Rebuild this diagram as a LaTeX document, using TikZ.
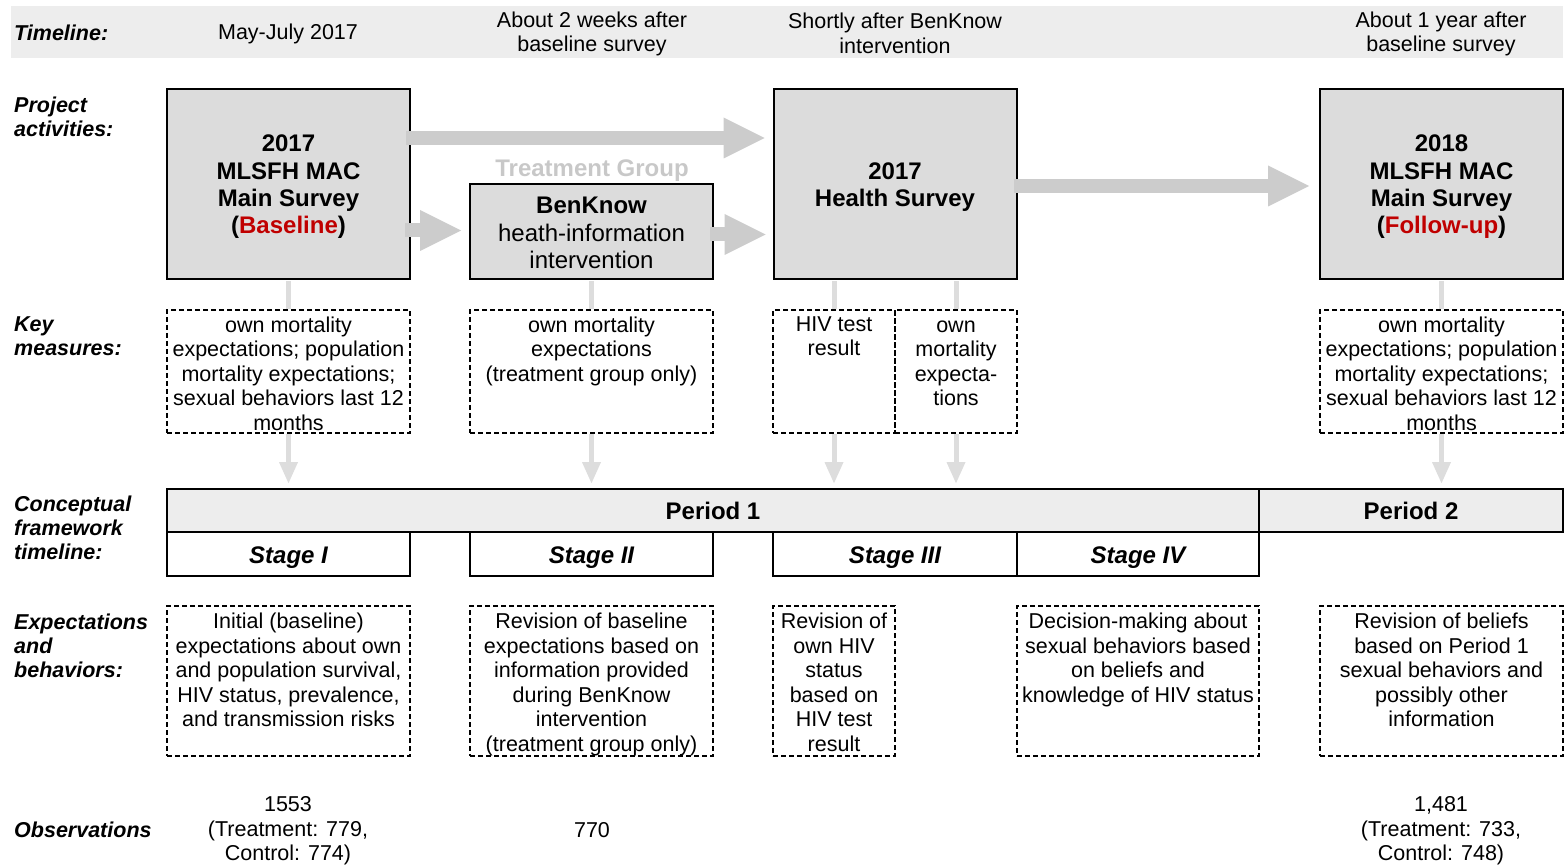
\documentclass[tikz,border=0pt]{standalone}
\usepackage{fontspec}
\setmainfont{Liberation Sans}
\usetikzlibrary{arrows.meta}
\definecolor{bandgray}{HTML}{EDEDED}
\definecolor{boxgray}{HTML}{DCDCDC}
\definecolor{arrgray}{HTML}{CCCCCC}
\definecolor{conngray}{HTML}{DDDDDD}
\definecolor{tgray}{HTML}{C8C8C8}
\definecolor{myred}{HTML}{C00000}
\begin{document}
\begin{tikzpicture}[x=1pt,y=-1pt,
  lab/.style={anchor=west, align=left, inner sep=0pt, font=\fontsize{21.5pt}{24pt}\selectfont\bfseries\itshape},
  txt/.style={align=center, inner sep=0pt, font=\fontsize{21.5pt}{24.5pt}\selectfont},
  pbox/.style={draw=black, line width=2pt, fill=boxgray, minimum width=243pt, minimum height=190pt, inner sep=0pt, align=center, font=\fontsize{24pt}{27.3pt}\selectfont\bfseries},
  ptext/.style={align=center, inner sep=0pt, font=\fontsize{24pt}{27.3pt}\selectfont\bfseries},
  dbox/.style={draw=black, dash pattern=on 5pt off 3pt, line width=1.3pt, inner sep=0pt, minimum width=243pt},
  perbox/.style={draw=black, line width=1.6pt, fill=bandgray, minimum height=43pt, inner sep=0pt, font=\fontsize{24pt}{27pt}\selectfont\bfseries},
  stagebox/.style={draw=black, line width=1.6pt, fill=white, minimum height=44pt, inner sep=0pt, text height=19pt, text depth=0pt, font=\fontsize{24pt}{27pt}\selectfont\bfseries\itshape},
  fat/.style={draw=arrgray, line width=14pt, -{Triangle[length=41pt,width=41pt,line width=0pt]}},
  conn/.style={draw=conngray, line width=5pt},
  connarr/.style={conn, -{Triangle[length=21pt,width=19pt,line width=0pt]}}
]
\useasboundingbox (0,0) rectangle (1566,866);

% timeline band
\node[fill=bandgray, minimum width=1552pt, minimum height=52pt, inner sep=0pt] (band) at (787,32) {};
\node[lab] (tlab) at (14,33) {Timeline:};
\node[txt] (t1) at (288,34) {May-July 2017};
\node[txt] (t2) at (592,34) {About 2 weeks after\\baseline survey};
\node[txt] (t3) at (895,33.5) {Shortly after BenKnow\\intervention};
\node[txt] (t4) at (1441,34) {About 1 year after\\baseline survey};

% left labels
\node[lab] (lpa) at (14,116.5) {Project\\activities:};
\node[lab] (lkm) at (14,336.5) {Key\\measures:};
\node[lab] (lcf) at (14,527.5) {Conceptual\\framework\\timeline:};
\node[lab] (leb) at (14,645.5) {Expectations\\and\\behaviors:};
\node[lab] (lob) at (14,830) {Observations};

% project activity boxes
\node[pbox] (b1) at (288.5,184) {};
\node[pbox, minimum height=95pt] (b2) at (591.5,231.5) {};
\node[pbox] (b3) at (895,184) {};
\node[pbox] (b4) at (1441.5,184) {};
\node[ptext] (b1t) at (288.5,187) {2017\\MLSFH MAC\\Main Survey\\(\textcolor{myred}{Baseline})};
\node[ptext] (b2t) at (591.5,233) {BenKnow\\\mdseries heath-information\\\mdseries intervention};
\node[ptext] (b3t) at (895,187) {2017\\Health Survey};
\node[ptext] (b4t) at (1441.5,187) {2018\\MLSFH MAC\\Main Survey\\(\textcolor{myred}{Follow-up})};
\node[text=tgray, inner sep=0pt, font=\fontsize{24pt}{27pt}\selectfont\bfseries] (tg) at (592,170.5) {Treatment Group};

% big arrows
\draw[fat] ([xshift=-5pt]b1.east |- 0,138) -- ([xshift=-8pt]b3.west |- 0,138);
\draw[fat] ([xshift=-6pt]b1.east |- 0,230.5) -- ([xshift=-8pt]b2.west |- 0,230.5);
\draw[fat] ([xshift=-4pt]b2.east |- 0,234.5) -- ([xshift=-7pt]b3.west |- 0,234.5);
\draw[fat] ([xshift=-4pt]b3.east |- 0,186) -- ([xshift=-10pt]b4.west |- 0,186);

% key measures boxes
\node[dbox, minimum height=123pt] (km1) at (288.5,371.5) {};
\node[dbox, minimum height=123pt] (km2) at (591.5,371.5) {};
\node[dbox, minimum height=123pt, minimum width=122pt] (km3a) at (834,371.5) {};
\node[dbox, minimum height=123pt, minimum width=122pt] (km3b) at (956,371.5) {};
\node[dbox, minimum height=123pt] (km4) at (1441.5,371.5) {};
\node[txt, anchor=north] (km1t) at (288.5,316.5) {own mortality\\expectations; population\\mortality expectations;\\sexual behaviors last 12\\months};
\node[txt, anchor=north] (km2t) at (591.5,316.5) {own mortality\\expectations\\(treatment group only)};
\node[txt, anchor=north] (km3at) at (834,316.5) {HIV test\\result};
\node[txt, anchor=north] (km3bt) at (956,320.5) {own\\mortality\\expecta-\\tions};
\node[txt, anchor=north] (km4t) at (1441.5,316.5) {own mortality\\expectations; population\\mortality expectations;\\sexual behaviors last 12\\months};

% period and stage bands
\node[perbox, minimum width=1092pt] (p1) at (713,510.5) {Period 1};
\node[perbox, minimum width=304pt] (p2) at (1411,510.5) {Period 2};
\node[stagebox, minimum width=243pt] (s1) at (288.5,554) {Stage I};
\node[stagebox, minimum width=243pt] (s2) at (591.5,554) {Stage II};
\node[stagebox, minimum width=244pt] (s3) at (895,554) {Stage III};
\node[stagebox, minimum width=242pt] (s4) at (1138,554) {Stage IV};

% connectors
\draw[conn, shorten <=1.5pt] (b1.south -| km1.north) -- (km1.north);
\draw[conn, shorten <=1.5pt] (b2.south -| km2.north) -- (km2.north);
\draw[conn, shorten <=1.5pt] (b3.south -| km3a.north) -- (km3a.north);
\draw[conn, shorten <=1.5pt] (b3.south -| km3b.north) -- (km3b.north);
\draw[conn, shorten <=1.5pt] (b4.south -| km4.north) -- (km4.north);
\draw[connarr, shorten >=5pt] (km1.south) -- (km1.south |- p1.north);
\draw[connarr, shorten >=5pt] (km2.south) -- (km2.south |- p1.north);
\draw[connarr, shorten >=5pt] (km3a.south) -- (km3a.south |- p1.north);
\draw[connarr, shorten >=5pt] (km3b.south) -- (km3b.south |- p1.north);
\draw[connarr, shorten >=5pt] (km4.south) -- (km4.south |- p2.north);

% expectations boxes
\node[dbox, minimum height=150pt] (e1) at (288.5,681) {};
\node[dbox, minimum height=150pt] (e2) at (591.5,681) {};
\node[dbox, minimum height=150pt, minimum width=122pt] (e3) at (834,681) {};
\node[dbox, minimum height=150pt, minimum width=242pt] (e4) at (1138,681) {};
\node[dbox, minimum height=150pt] (e5) at (1441.5,681) {};
\node[txt, anchor=north] (e1t) at (288.5,613) {Initial (baseline)\\expectations about own\\and population survival,\\HIV status, prevalence,\\and transmission risks};
\node[txt, anchor=north] (e2t) at (591.5,613) {Revision of baseline\\expectations based on\\information provided\\during BenKnow\\intervention\\(treatment group only)};
\node[txt, anchor=north] (e3t) at (834,613) {Revision of\\own HIV\\status\\based on\\HIV test\\result};
\node[txt, anchor=north] (e4t) at (1138,613) {Decision-making about\\sexual behaviors based\\on beliefs and\\knowledge of HIV status};
\node[txt, anchor=north] (e5t) at (1441.5,613) {Revision of beliefs\\based on Period 1\\sexual behaviors and\\possibly other\\information};

% observations
\node[txt] (o1) at (288,831) {1553\\(Treatment: 779,\\Control: 774)};
\node[txt] (o2) at (592,830) {770};
\node[txt] (o4) at (1441,831) {1,481\\(Treatment: 733,\\Control: 748)};
\end{tikzpicture}
\end{document}
